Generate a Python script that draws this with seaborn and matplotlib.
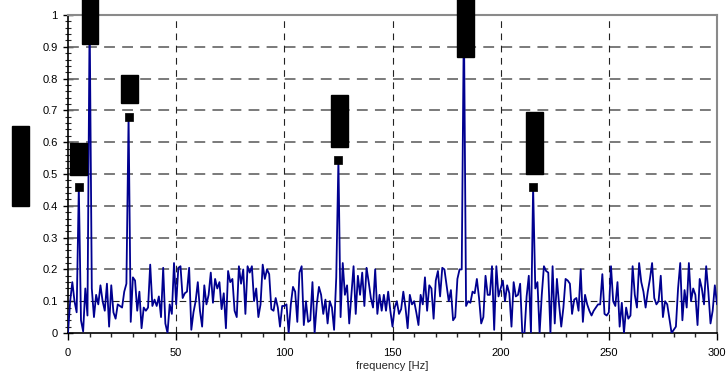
import numpy as np
import pandas as pd
import matplotlib
matplotlib.use("Agg")
import matplotlib.pyplot as plt
from matplotlib.patches import Rectangle
from matplotlib.ticker import MultipleLocator
import seaborn as sns

# ---- data ----
freq_hz = list(range(0, 301))
amplitude = [
    0.00, 0.10, 0.16, 0.10, 0.065, 0.46, 0.04, 0.005, 0.14, 0.055,
    1.00, 0.14, 0.05, 0.12, 0.09, 0.15, 0.10, 0.07, 0.155, 0.02,
    0.15, 0.065, 0.045, 0.09, 0.085, 0.08, 0.13, 0.155, 0.68, 0.035,
    0.175, 0.165, 0.07, 0.13, 0.015, 0.08, 0.07, 0.08, 0.215, 0.085,
    0.105, 0.085, 0.115, 0.05, 0.205, 0.03, 0.00, 0.09, 0.06, 0.22,
    0.09, 0.205, 0.21, 0.11, 0.125, 0.13, 0.205, 0.01, 0.065, 0.10,
    0.16, 0.07, 0.02, 0.15, 0.09, 0.12, 0.19, 0.095, 0.17, 0.14,
    0.16, 0.075, 0.125, 0.015, 0.195, 0.16, 0.17, 0.07, 0.05, 0.21,
    0.155, 0.20, 0.06, 0.21, 0.19, 0.21, 0.10, 0.14, 0.05, 0.09,
    0.215, 0.17, 0.20, 0.185, 0.075, 0.07, 0.11, 0.08, 0.02, 0.085,
    0.085, 0.09, 0.00, 0.09, 0.145, 0.13, 0.035, 0.19, 0.21, 0.025,
    0.10, 0.035, 0.04, 0.16, 0.00, 0.09, 0.145, 0.12, 0.06, 0.105,
    0.03, 0.10, 0.08, 0.01, 0.175, 0.545, 0.05, 0.22, 0.12, 0.15,
    0.03, 0.12, 0.21, 0.06, 0.18, 0.12, 0.19, 0.085, 0.205, 0.16,
    0.11, 0.08, 0.20, 0.06, 0.12, 0.07, 0.12, 0.07, 0.13, 0.07,
    0.02, 0.08, 0.10, 0.06, 0.075, 0.13, 0.08, 0.015, 0.12, 0.09,
    0.10, 0.065, 0.025, 0.12, 0.09, 0.175, 0.07, 0.15, 0.14, 0.045,
    0.165, 0.195, 0.115, 0.205, 0.20, 0.15, 0.10, 0.135, 0.04, 0.05,
    0.17, 0.20, 0.20, 1.00, 0.085, 0.10, 0.095, 0.13, 0.125, 0.17,
    0.11, 0.03, 0.05, 0.18, 0.12, 0.12, 0.21, 0.01, 0.21, 0.115,
    0.14, 0.165, 0.10, 0.15, 0.125, 0.02, 0.16, 0.115, 0.12, 0.155,
    0.00, 0.00, 0.115, 0.18, 0.00, 0.46, 0.14, 0.16, 0.00, 0.12,
    0.21, 0.195, 0.19, 0.00, 0.21, 0.03, 0.17, 0.09, 0.02, 0.08,
    0.17, 0.165, 0.155, 0.06, 0.105, 0.11, 0.07, 0.20, 0.035, 0.12,
    0.09, 0.07, 0.055, 0.07, 0.08, 0.09, 0.09, 0.185, 0.06, 0.055,
    0.065, 0.21, 0.10, 0.085, 0.16, 0.02, 0.095, 0.00, 0.08, 0.045,
    0.055, 0.21, 0.12, 0.08, 0.22, 0.16, 0.13, 0.08, 0.13, 0.17,
    0.22, 0.11, 0.09, 0.10, 0.18, 0.05, 0.10, 0.09, 0.045, 0.00,
    0.01, 0.02, 0.14, 0.22, 0.04, 0.135, 0.08, 0.22, 0.10, 0.14,
    0.12, 0.025, 0.17, 0.14, 0.09, 0.21, 0.13, 0.03, 0.07, 0.15,
    0.09,
]
peak_freq = [5, 28, 125, 215]
peak_amp = [0.46, 0.68, 0.545, 0.46]
x_label = "frequency [Hz]"

# redacted label boxes (x0, x1, y0, y1) in data units
label_boxes = [
    (0.9, 8.8, 0.497, 0.597),
    (6.5, 13.9, 0.91, 1.06),
    (24.5, 32.4, 0.723, 0.811),
    (121.6, 129.4, 0.585, 0.748),
    (179.8, 187.7, 0.868, 1.06),
    (211.7, 219.6, 0.50, 0.695),
]

df = pd.DataFrame({"f": freq_hz, "a": amplitude})
pk = pd.DataFrame({"f": peak_freq, "a": peak_amp})

sns.set_style("white")
plt.rcParams["font.family"] = ["Liberation Sans", "DejaVu Sans"]

fig = plt.figure(figsize=(7.28, 3.76), dpi=100)
ax = fig.add_axes([68 / 728, 43 / 376, 649 / 728, 318 / 376])

# grid
for yv in np.arange(0.1, 1.0001, 0.1):
    if abs(yv - 0.1) < 1e-6:
        ax.axhline(yv, color="#222222", lw=0.8, ls=(0, (6, 4)), zorder=1)
    else:
        ax.axhline(yv, color="#707070", lw=1.3, ls=(0, (6, 4)), zorder=1)
for xv in [50, 100, 150, 200, 250]:
    ax.axvline(xv, color="#222222", lw=0.8, ls=(0, (6, 5)), zorder=1)

sns.lineplot(data=df, x="f", y="a", ax=ax, color="#000090", lw=1.3, zorder=3)
sns.scatterplot(data=pk, x="f", y="a", ax=ax, marker="s", s=40, color="black",
                edgecolor="black", zorder=5, legend=False)

for (x0, x1, y0, y1) in label_boxes:
    ax.add_patch(Rectangle((x0, y0), x1 - x0, y1 - y0, facecolor="black",
                           edgecolor="black", clip_on=False, zorder=6))

# y label box (redacted)
fig.patches.append(Rectangle((12 / 728, 1 - 206 / 376), 17 / 728, 80 / 376,
                             transform=fig.transFigure, facecolor="black",
                             edgecolor="black"))

ax.set_xlim(0, 300)
ax.set_ylim(0, 1)
ax.xaxis.set_major_locator(MultipleLocator(50))
ax.xaxis.set_minor_locator(MultipleLocator(10))
ax.yaxis.set_major_locator(MultipleLocator(0.1))
ax.yaxis.set_minor_locator(MultipleLocator(0.02))
ax.set_yticks(np.round(np.arange(0, 1.01, 0.1), 1))
ax.set_yticklabels(["0"] + [f"{v:.1f}" for v in np.arange(0.1, 0.95, 0.1)] + ["1"])

ax.tick_params(axis="x", which="major", direction="out", length=5, width=1,
               labelsize=8, colors="black", pad=6)
ax.tick_params(axis="x", which="minor", direction="out", length=3, width=1)
ax.tick_params(axis="y", which="major", direction="inout", length=7, width=1,
               labelsize=8, colors="black", pad=4)
ax.tick_params(axis="y", which="minor", direction="inout", length=4, width=0.8)
ax.tick_params(bottom=True, left=True, which="both")

ax.set_xlabel(x_label, fontsize=8, labelpad=2)
ax.set_ylabel("")

for s in ["left", "bottom"]:
    ax.spines[s].set_color("black")
    ax.spines[s].set_linewidth(1.2)
for s in ["top", "right"]:
    ax.spines[s].set_color("#8a8a8a")
    ax.spines[s].set_linewidth(1.5)

fig.savefig("out.png", dpi=100)
